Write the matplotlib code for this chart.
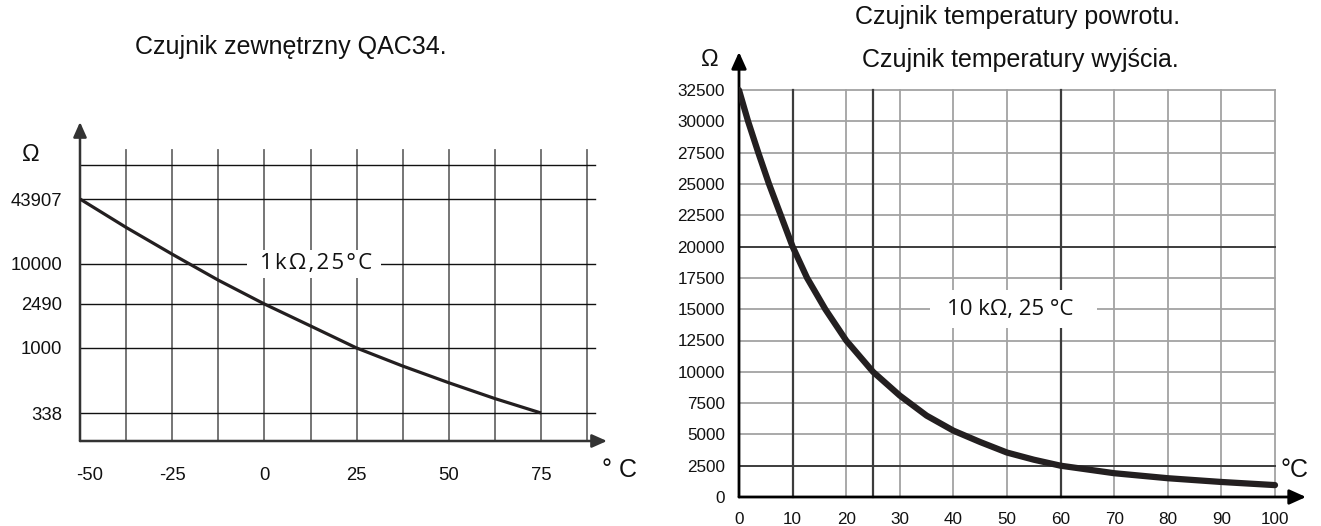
import numpy as np
import matplotlib
matplotlib.use("Agg")
import matplotlib.pyplot as plt
import matplotlib.transforms as mtrans
from matplotlib.patches import Rectangle

# ---------------- data ----------------
left_title = "Czujnik zewnętrzny QAC34."
left_temp = [-50, -37.5, -25, -12.5, 0, 12.5, 25, 37.5, 50, 62.5, 75]
left_res = [43907, 23000, 12500, 5700, 2490, 1580, 1000, 740, 560, 430, 338]
left_xticks = [-50, -25, 0, 25, 50, 75]
left_yticks = [338, 1000, 2490, 10000, 43907]
left_label = "1\u200ak\u200aΩ\u200a,\u200a2\u200a5\u200a°\u200aC"

right_title = ["Czujnik temperatury powrotu.", "Czujnik temperatury wyjścia."]
right_temp = [0, 1.7, 3.6, 5.6, 7.8, 10, 12.7, 16.1, 20, 25, 30, 35, 40, 45, 50, 55, 60, 70, 80, 90, 100]
right_res = [32500, 30000, 27500, 25000, 22500, 20000, 17500, 15000, 12500, 10000, 8100, 6500,
             5300, 4390, 3550, 2980, 2500, 1900, 1500, 1200, 950]
right_xticks = list(range(0, 101, 10))
right_yticks = list(range(0, 32501, 2500))
right_label = "10 kΩ, 25 °C"

# ---------------- figure ----------------
W, H = 1321, 526
fig = plt.figure(figsize=(W / 100, H / 100), dpi=100)
plt.rcParams['font.family'] = ['Liberation Sans', 'DejaVu Sans']
INK = '#231f20'
TXT = '#111111'
TITLE_FS = 18


def add_ax(x0, y0, x1, y1):
    return fig.add_axes([x0 / W, 1 - y1 / H, (x1 - x0) / W, (y1 - y0) / H])


# ================= LEFT CHART =================
axL = add_ax(80, 110, 640, 441)
axL.set_xlim(-50, -50 + (640 - 80) / 3.688)

anch_v = np.log10([100, 338, 1000, 2490, 10000, 43907, 100000, 1e6])
anch_p = [0, 28, 93, 137, 177, 242, 276, 331]


def fwd(v):
    v = np.asarray(v, dtype=float)
    return np.interp(np.log10(np.clip(v, 1e-9, None)), anch_v, anch_p)


def inv(p):
    return 10 ** np.interp(np.asarray(p, dtype=float), anch_p, anch_v)


axL.set_yscale('function', functions=(fwd, inv))
axL.set_ylim(100, 1e6)
for s in axL.spines.values():
    s.set_visible(False)
axL.patch.set_alpha(0)

x_right_grid = -50 + (595 - 80) / 3.688
v_top = inv(291)
for k in range(1, 12):
    xv = -50 + 12.5 * k
    axL.plot([xv, xv], [100, v_top], color='#6a6a6a', lw=1.3, zorder=1, clip_on=False)
for yv in left_yticks + [100000]:
    axL.plot([-50, x_right_grid], [yv, yv], color='#111111', lw=1.0, zorder=1, clip_on=False)
arrow_kw = dict(arrowstyle='-|>,head_length=0.9,head_width=0.4', lw=1.8,
                color='#333333', shrinkA=0, shrinkB=0)
axL.annotate('', xy=(-50 + (607 - 80) / 3.688, 100), xytext=(-50, 100),
             arrowprops=arrow_kw, zorder=3)
axL.annotate('', xy=(-50, inv(319)), xytext=(-50, 100), arrowprops=arrow_kw, zorder=3)
axL.add_patch(Rectangle((-4.7, inv(163)), 31.6 + 4.7, inv(191) - inv(163),
                        facecolor='white', edgecolor='none', zorder=2))
axL.text(14, 10000, left_label, ha='center', va='center', fontsize=16,
         family=['Open Sans', 'DejaVu Sans'], color=TXT, zorder=4)
axL.plot(left_temp, left_res, color=INK, lw=2.3, zorder=5, solid_capstyle='butt')

axL.set_xticks(left_xticks)
axL.set_xticklabels([str(t) for t in left_xticks])
axL.set_yticks(left_yticks)
axL.set_yticklabels([str(t) for t in left_yticks])
axL.yaxis.set_minor_locator(matplotlib.ticker.NullLocator())
axL.tick_params(axis='both', length=0, labelsize=13.3, colors=TXT)
axL.tick_params(axis='y', pad=13)
axL.tick_params(axis='x', pad=19)
first = axL.xaxis.get_major_ticks()[0]
first.label1.set_transform(first.label1.get_transform() +
                           mtrans.ScaledTranslation(10 / 100, 0, fig.dpi_scale_trans))

fig.text(31 / W, 1 - 155 / H, 'Ω', fontsize=17, ha='center', va='center', color=TXT)
fig.text(619 / W, 1 - 470 / H, '° C', fontsize=18, ha='center', va='center', color=TXT)
fig.text(291 / W, 1 - 47 / H, left_title, fontsize=TITLE_FS, ha='center', va='center', color=TXT)

# ================= RIGHT CHART =================
axR = add_ax(739, 40, 1321, 497)
pxc = 5.36
axR.set_xlim(0, (1321 - 739) / pxc)
axR.set_ylim(0, (497 - 40) / 31.3 * 2500)
for s in axR.spines.values():
    s.set_visible(False)
axR.patch.set_alpha(0)

dark_x = [10, 25, 60]
dark_y = [20000, 2500]
for xv in sorted(set(right_xticks[1:] + [25])):
    dk = xv in dark_x
    axR.plot([xv, xv], [0, 32500], color='#3c3c3c' if dk else '#a3a3a3',
             lw=1.6 if dk else 1.3, zorder=1.5 if dk else 1, clip_on=False)
for yv in right_yticks[1:]:
    dk = yv in dark_y
    axR.plot([0, 100], [yv, yv], color='#3c3c3c' if dk else '#a3a3a3',
             lw=1.4 if dk else 1.3, zorder=1.5 if dk else 1, clip_on=False)

arrow_kw2 = dict(arrowstyle='-|>,head_length=1.0,head_width=0.45', lw=2.0,
                 color='black', shrinkA=0, shrinkB=0)
axR.annotate('', xy=((1306 - 739) / pxc, 0), xytext=(0, 0), arrowprops=arrow_kw2, zorder=3)
axR.annotate('', xy=(0, (497 - 52) / 31.3 * 2500), xytext=(0, 0), arrowprops=arrow_kw2, zorder=3)

axR.add_patch(Rectangle((35.6, 13500), 66.8 - 35.6, 3000,
                        facecolor='white', edgecolor='none', zorder=2))
axR.text(50.6, 15000, right_label, ha='center', va='center', fontsize=16,
         family=['Open Sans', 'DejaVu Sans'], color=TXT, zorder=4)

axR.plot(right_temp, right_res, color=INK, lw=4.5, zorder=5, solid_capstyle='round',
         solid_joinstyle='round')

axR.set_xticks(right_xticks)
axR.set_xticklabels([str(t) for t in right_xticks])
axR.set_yticks(right_yticks)
axR.set_yticklabels([str(t) for t in right_yticks])
axR.tick_params(axis='both', length=0, labelsize=12.3, colors=TXT)
axR.tick_params(axis='y', pad=10)
axR.tick_params(axis='x', pad=11)

fig.text(710 / W, 1 - 60 / H, 'Ω', fontsize=17, ha='center', va='center', color=TXT)
fig.text(1294 / W, 1 - 470 / H, '°C', fontsize=18, ha='center', va='center', color=TXT)
fig.text(1018 / W, 1 - 17 / H, right_title[0], fontsize=TITLE_FS, ha='center', va='center', color=TXT)
fig.text(1020 / W, 1 - 60 / H, right_title[1], fontsize=TITLE_FS, ha='center', va='center', color=TXT)

fig.savefig('out.png', dpi=100, facecolor='white')
